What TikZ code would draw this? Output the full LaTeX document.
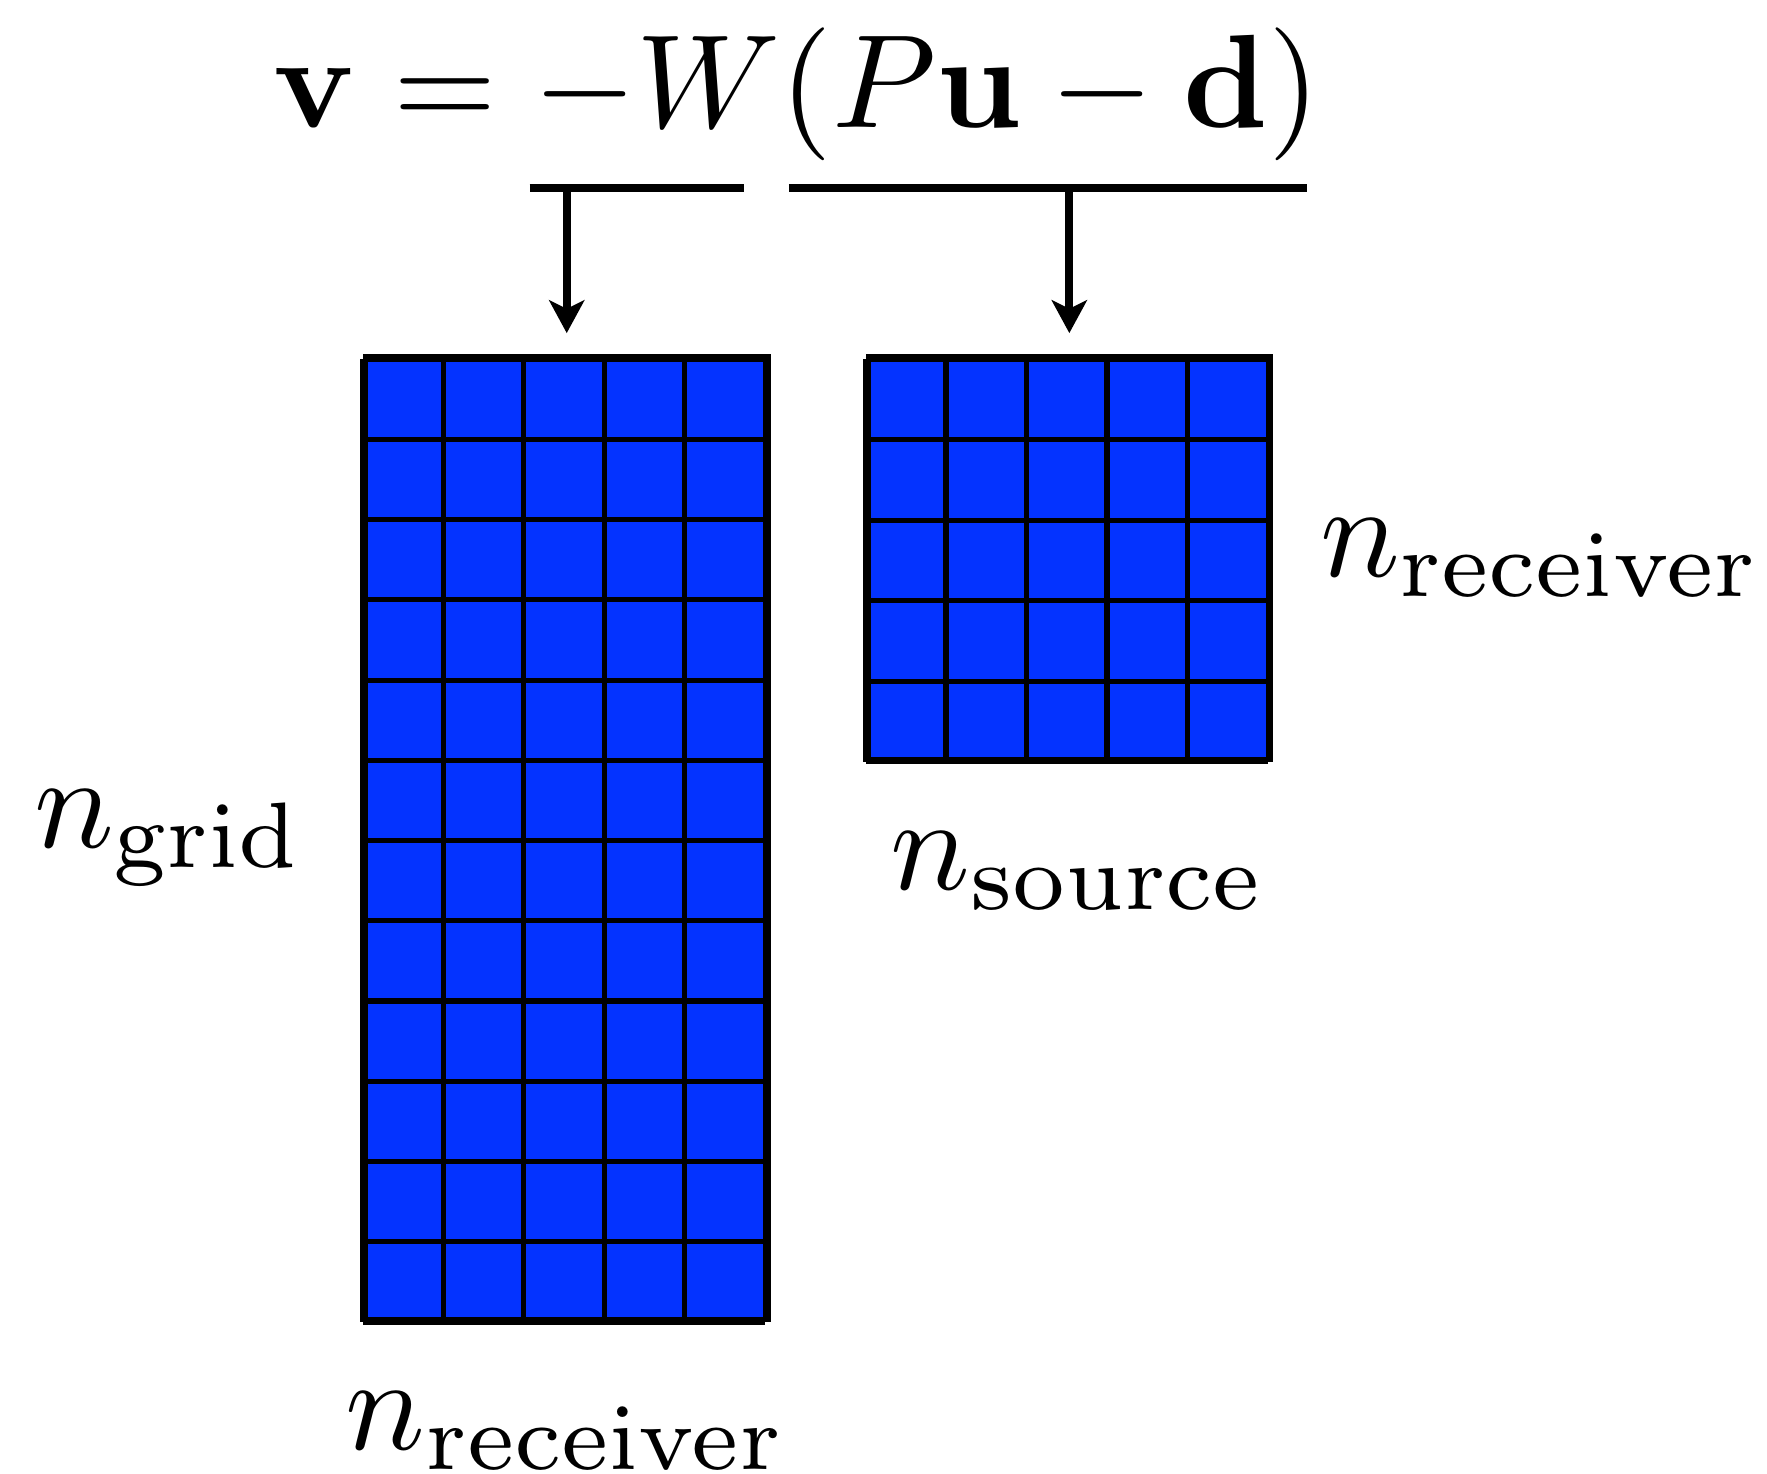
\documentclass[tikz,border=0pt]{standalone}
\usepackage{amsmath}
\usepackage{amssymb}
\usepackage{tikz}
\usetikzlibrary{arrows.meta,positioning}
\definecolor{cellblue}{RGB}{4,51,255}

\begin{document}
\begin{tikzpicture}[>={Stealth[length=5.8pt,width=6.2pt,inset=1.5pt]},
  mat/.style={draw, fill=cellblue, line width=0.9pt, inner sep=0pt, minimum width=2.5cm},
  gl/.style={line width=0.9pt},
  bar/.style={line width=1.4pt},
  lbl/.style={inner sep=0pt, scale=2.35}
]
\useasboundingbox (0,0) rectangle (10.975,9.155);
% equation and the two underbars
\node[lbl, anchor=base] (eq) at (4.95,8.365) {$\mathbf{v} = -W(P\mathbf{u} - \mathbf{d})$};
\coordinate (wl) at (3.29,7.99); \coordinate (wr) at (4.62,7.99);
\coordinate (pl) at (4.90,7.99); \coordinate (pr) at (8.12,7.99);
% matrices
\node[mat, minimum height=5.98cm] (Wmat) at (3.52,3.95) {};
\node[mat, minimum height=2.5cm, anchor=north west] (Rmat) at ([xshift=0.59cm]Wmat.north east) {};
\draw[gl, shift={(Wmat.south west)}] (0,0) grid[xstep=0.5, ystep=5.98/12] (2.5,5.98);
\draw[gl, shift={(Rmat.south west)}] (0,0) grid[step=0.5] (2.5,2.5);
% bars to matrices
\draw[bar] (wl) -- (wr);
\draw[bar] (pl) -- (pr);
\draw[bar,->,shorten >=0.13cm] (wl -| Wmat.north) -- (Wmat.north);
\draw[bar,->,shorten >=0.13cm] (pl -| Rmat.north) -- (Rmat.north);
% sizes
\node[lbl, left=0.35cm of Wmat] (ngrid) {$n_{\mathrm{grid}}$};
\node[lbl, below=0.42cm of Wmat] (nrecW) {$n_{\mathrm{receiver}}$};
\node[lbl, below=0.42cm of Rmat, xshift=0.025cm] (nsrc) {$n_{\mathrm{source}}$};
\node[lbl, right=0.275cm of Rmat] (nrecR) {$n_{\mathrm{receiver}}$};
\end{tikzpicture}
\end{document}
